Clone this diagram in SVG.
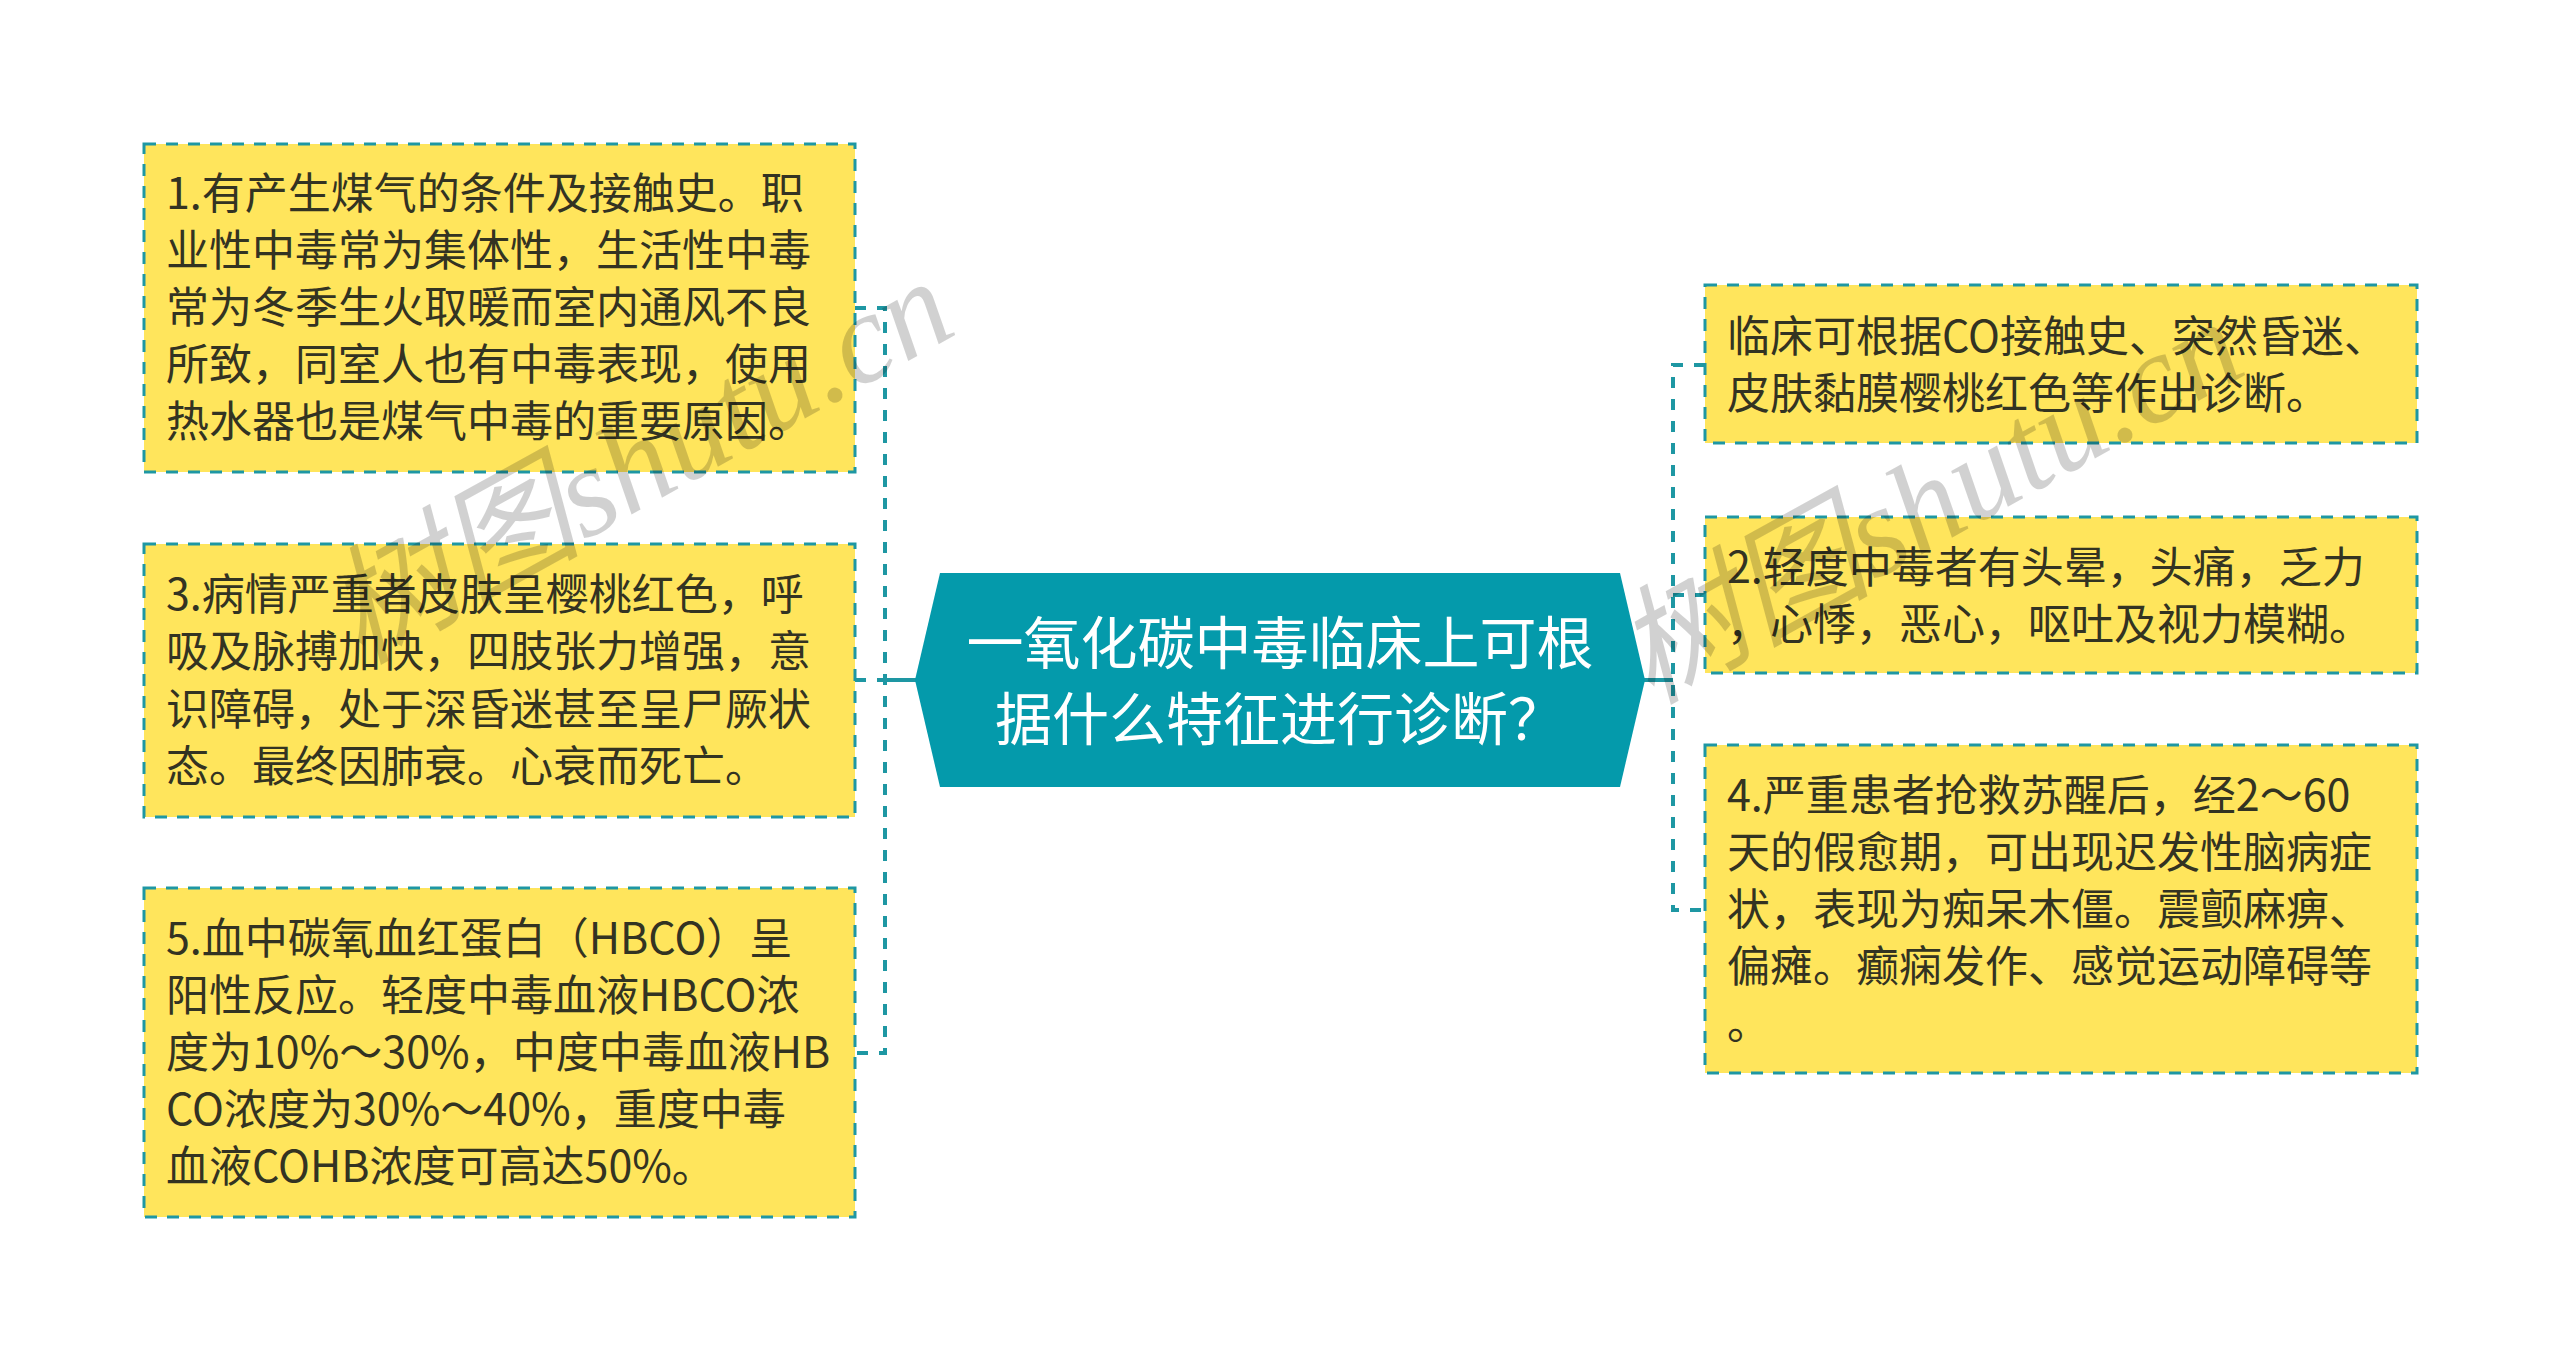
<svg xmlns="http://www.w3.org/2000/svg" width="2560" height="1361" viewBox="0 0 2560 1361">
<style>
.bg{fill:#ffffff}
.box{fill:#ffe55c;stroke:#1e97a3;stroke-width:3;stroke-dasharray:12 10}
.t{font-family:"Noto Sans CJK SC","Noto Sans",sans-serif;font-size:43px;fill:#333322}
.ct{font-family:"Noto Sans CJK SC","Noto Sans",sans-serif;font-size:57px;fill:#ffffff;text-anchor:middle}
.dash{fill:none;stroke:#1e97a3;stroke-width:4;stroke-dasharray:11 11}
.solid{fill:none;stroke:#1e97a3;stroke-width:4}
.wm{font-family:"Liberation Serif","Noto Sans CJK SC",serif;font-style:italic;font-size:128px;fill:#000000;fill-opacity:0.18}
</style>
<rect class="bg" x="0" y="0" width="2560" height="1361"/>
<g id="connectors">
<path class="dash" d="M855 308 H885 V1053 H855"/>
<path class="solid" d="M885 680 H917"/>
<path class="dash" d="M855 680 H885"/>
<path class="dash" d="M1705 365 H1673 V910 H1705"/>
<path class="dash" d="M1673 595 H1705"/>
<path class="solid" d="M1643 680 H1673"/>
</g>
<g id="center">
<polygon points="940,573 1620,573 1645,680 1620,787 940,787 915,680" fill="#049aab"/>
<text class="ct" x="1280" y="664">一氧化碳中毒临床上可根</text>
<text class="ct" x="1280" y="740">据什么特征进行诊断？</text>
</g>
<g id="node1">
<rect class="box" x="144" y="144" width="711" height="328"/>
<text class="t" x="166" y="209">1.有产生煤气的条件及接触史。职</text>
<text class="t" x="166" y="266">业性中毒常为集体性，生活性中毒</text>
<text class="t" x="166" y="323">常为冬季生火取暖而室内通风不良</text>
<text class="t" x="166" y="380">所致，同室人也有中毒表现，使用</text>
<text class="t" x="166" y="437">热水器也是煤气中毒的重要原因。</text>
</g>
<g id="node3">
<rect class="box" x="144" y="544" width="711" height="273"/>
<text class="t" x="166" y="610">3.病情严重者皮肤呈樱桃红色，呼</text>
<text class="t" x="166" y="667">吸及脉搏加快，四肢张力增强，意</text>
<text class="t" x="166" y="725">识障碍，处于深昏迷甚至呈尸厥状</text>
<text class="t" x="166" y="782">态。最终因肺衰。心衰而死亡。</text>
</g>
<g id="node5">
<rect class="box" x="144" y="888" width="711" height="329"/>
<text class="t" x="166" y="954">5.血中碳氧血红蛋白（HBCO）呈</text>
<text class="t" x="166" y="1011">阳性反应。轻度中毒血液HBCO浓</text>
<text class="t" x="166" y="1068">度为10%～30%，中度中毒血液HB</text>
<text class="t" x="166" y="1125">CO浓度为30%～40%，重度中毒</text>
<text class="t" x="166" y="1182">血液COHB浓度可高达50%。</text>
</g>
<g id="nodeA">
<rect class="box" x="1705" y="285" width="712" height="158"/>
<text class="t" x="1727" y="352">临床可根据CO接触史、突然昏迷、</text>
<text class="t" x="1727" y="409">皮肤黏膜樱桃红色等作出诊断。</text>
</g>
<g id="node2">
<rect class="box" x="1705" y="517" width="712" height="156"/>
<text class="t" x="1727" y="583">2.轻度中毒者有头晕，头痛，乏力</text>
<text class="t" x="1727" y="640">，心悸，恶心，呕吐及视力模糊。</text>
</g>
<g id="node4">
<rect class="box" x="1705" y="745" width="712" height="328"/>
<text class="t" x="1727" y="811">4.严重患者抢救苏醒后，经2～60</text>
<text class="t" x="1727" y="868">天的假愈期，可出现迟发性脑病症</text>
<text class="t" x="1727" y="925">状，表现为痴呆木僵。震颤麻痹、</text>
<text class="t" x="1727" y="982">偏瘫。癫痫发作、感觉运动障碍等</text>
<text class="t" x="1727" y="1039">。</text>
</g>
<g id="watermarks">
<text class="wm" transform="translate(360,665) rotate(-29)">树图shutu.cn</text>
<text class="wm" transform="translate(1650,705) rotate(-29)">树图shutu.cn</text>
</g>
</svg>
